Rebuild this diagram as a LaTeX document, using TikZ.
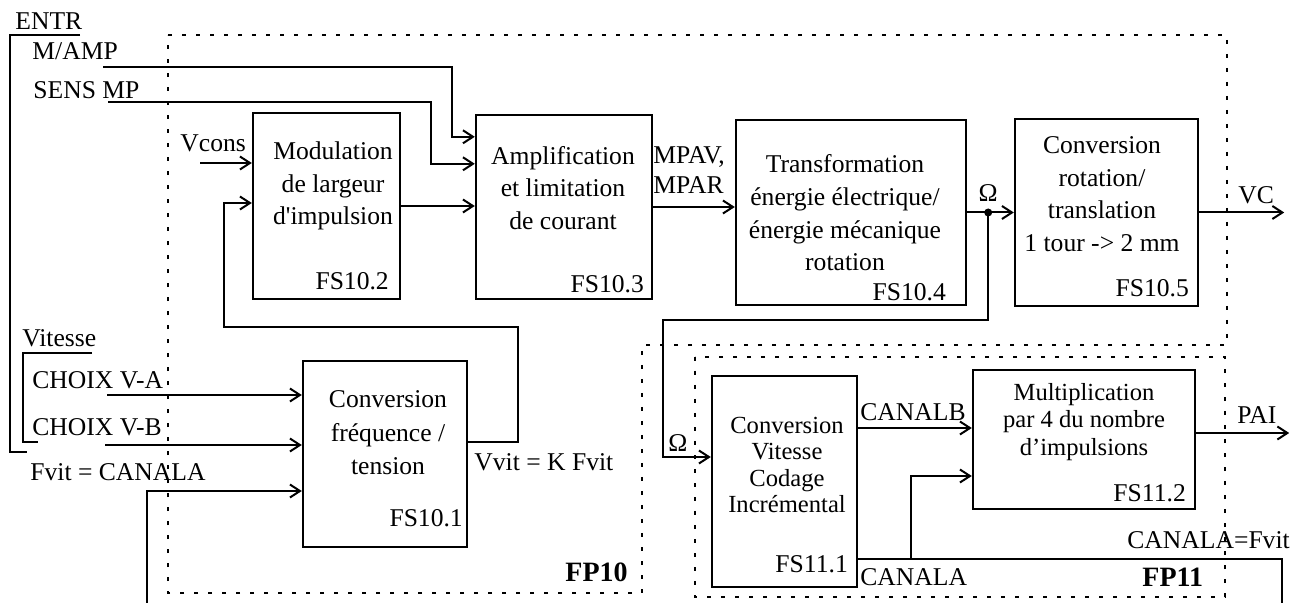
\documentclass[tikz,border=0pt]{standalone}
\usepackage{fontspec}
\setmainfont{Liberation Serif}
\usetikzlibrary{calc,arrows.meta}

\begin{document}
\begin{tikzpicture}[x=0.5pt, y=-0.5pt,
        bloc/.style={draw, line width=1.2pt, inner sep=0pt},
        fleche/.style={line width=1pt, -{Straight Barb[length=5pt,width=6.5pt]}},
        trait/.style={line width=1pt},
        cadre/.style={line width=1.2pt, dash pattern=on 2pt off 5pt},
        txt/.style={inner sep=0pt, align=center, font=\fontsize{12.8}{16.3}\selectfont},
        serre/.style={inner sep=0pt, align=center, font=\fontsize{12.3}{13.1}\selectfont},
        lab/.style={inner sep=0pt, anchor=west, font=\fontsize{12.8}{15}\selectfont},
        fs/.style={inner sep=0pt, anchor=east, font=\fontsize{12.8}{15}\selectfont},
        fp/.style={inner sep=0pt, anchor=west, font=\fontsize{14}{16}\selectfont\bfseries}]
        \useasboundingbox (0,0) rectangle (1304,603);

        \draw[cadre] (168,35) -- (1227,35) -- (1227,345) -- (642,345) -- (642,593) -- (168,593) -- cycle;
        \draw[cadre] (695,357) rectangle (1225,597);

        \node[bloc, minimum width=73.5pt, minimum height=93pt] (fs102) at (326.5,206) {};
        \node[bloc, minimum width=88pt, minimum height=92pt] (fs103) at (564,207) {};
        \node[bloc, minimum width=115pt, minimum height=92.5pt] (fs104) at (851,212.5) {};
        \node[bloc, minimum width=91.5pt, minimum height=93.5pt] (fs105) at (1106.5,212.5) {};
        \node[bloc, minimum width=82pt, minimum height=93pt] (fs101) at (385,454) {};
        \node[bloc, minimum width=72.5pt, minimum height=105.5pt] (fs111) at (784.5,481.5) {};
        \node[bloc, minimum width=111pt, minimum height=69.5pt] (fs112) at (1084,439.5) {};

        \node[txt] (fs102t) at (333,186) {Modulation\\de largeur\\d\textquotesingle impulsion};
        \node[txt] (fs103t) at (563,188) {Amplification\\et limitation\\de courant};
        \node[txt] (fs104t) at (845,213) {Transformation\\énergie électrique/\\énergie mécanique\\rotation};
        \node[txt] (fs105t) at (1102,194) {Conversion\\rotation/\\translation\\1 tour -> 2 mm};
        \node[txt, font=\fontsize{12.8}{16.8}\selectfont] (fs101t) at (388,433) {Conversion\\fréquence /\\tension};
        \node[serre] (fs111t) at (787,465) {Conversion\\Vitesse\\Codage\\Incrémental};
        \node[serre, font=\fontsize{12.3}{13.6}\selectfont] (fs112t) at (1084,422) {Multiplication\\par 4 du nombre\\d’impulsions};

        \foreach \b/\t/\dx/\dy in {fs102/FS10.2/-12/-19, fs103/FS10.3/-9/-16, fs104/FS10.4/-21/-14,
                fs105/FS10.5/-10/-19, fs101/FS10.1/-5/-30, fs111/FS11.1/-10/-24, fs112/FS11.2/-10/-17}{
            \node[fs] (\b-lab) at ($(\b.south east)+(\dx,\dy)$) {\t};
        }

        \node[lab] (entr) at (15,21) {ENTR};
        \node[lab] (mamp) at (32,51) {M/AMP};
        \node[lab] (sens) at (33,90) {SENS MP};
        \node[lab] (vcons) at (180,143) {Vcons};
        \node[lab] (vit) at (22,338) {Vitesse};
        \node[lab] (chxa) at (32,380) {CHOIX V-A};
        \node[lab] (chxb) at (32,427) {CHOIX V-B};
        \node[lab] (fvit) at (30,472) {Fvit = CANALA};
        \node[lab] (vvit) at (474,462) {Vvit = K Fvit};
        \node[lab, align=left] (mpav) at (653,170) {MPAV,\\MPAR};
        \node[lab, anchor=center] (om1) at (988,193) {Ω};
        \node[lab] (vc) at (1238,195) {VC};
        \node[lab, anchor=center] (om2) at (678,443) {Ω};
        \node[lab] (canalb) at (860,412) {CANALB};
        \node[lab] (pai) at (1237,415) {PAI};
        \node[lab] (canalafv) at (1127,540) {CANALA=Fvit};
        \node[lab] (canala) at (860,577) {CANALA};
        \node[fp] (fp10) at (565,572) {FP10};
        \node[fp] (fp11) at (1142,577) {FP11};

        \draw[trait] (80,35) -- (10,35) -- (10,452) -- (27,452);
        \draw[trait] (92,353) -- (23,353) -- (23,442) -- (38,442);

        \coordinate (mampA) at (103,67);
        \coordinate (sensA) at (108,102);
        \coordinate (vconsA) at (200,163);
        \coordinate (chxaA) at (107,395);
        \coordinate (chxbA) at (105,445);
        \coordinate (fvitA) at (147,603);
        \coordinate (fbh) at (518,327);
        \coordinate (fbg) at (224,327);
        \coordinate (retour) at (663,320);
        \coordinate (cafin) at (1282,603);

        \draw[fleche] (mampA) -| ($(fs103.north west)+(-23,23)$) -- ($(fs103.north west)+(0,23)$);
        \draw[fleche] (sensA) -| ($(fs103.north west)+(-44,50)$) -- ($(fs103.north west)+(0,50)$);
        \draw[fleche] (vconsA) -- (vconsA -| fs102.west);
        \draw[fleche] ($(fs101.east)+(0,-12)$) -| (fbh) -- (fbg) |- ($(fs102.west)+(0,-3)$);
        \draw[fleche] (fs102.east) -- (fs102.east -| fs103.west);
        \draw[fleche] (fs103.east) -- (fs103.east -| fs104.west);
        \draw[fleche] (fs104.east) -- (fs105.west);
        \coordinate (omg) at ($(fs104.east)!0.45!(fs105.west)$);
        \fill (omg) circle (2pt);
        \draw[fleche] (fs105.east) -- ++(85,0);
        \draw[fleche] (omg) |- (retour) |- ($(fs111.west)+(0,-24.5)$);
        \draw[fleche] (chxaA) -- (chxaA -| fs101.west);
        \draw[fleche] (chxbA) -- (chxbA -| fs101.west);
        \draw[fleche] (fvitA) |- ($(fs101.west)+(0,37)$);
        \draw[fleche] ($(fs111.east)+(0,-53.5)$) -- ($(fs112.west)+(0,-11.5)$);
        \coordinate (ca) at ($(fs111.east)+(0,77.5)$);
        \draw[trait] (ca) -| (cafin);
        \draw[fleche] ($(ca)+(53,0)$) |- ($(fs112.west)+(0,36.5)$);
        \draw[fleche] ($(fs112.east)+(0,-6.5)$) -- ++(93,0);
    \end{tikzpicture}
\end{document}
